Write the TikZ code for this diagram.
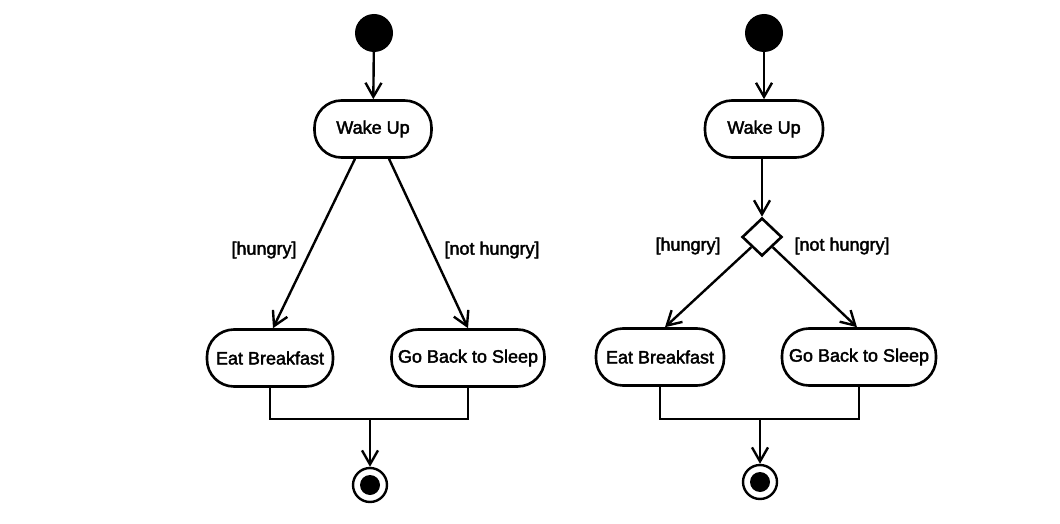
\documentclass[tikz,border=0pt]{standalone}
\usepackage{fontspec}
\setmainfont{Liberation Sans}[FakeBold=2.2]
\usetikzlibrary{arrows.meta,shapes.geometric,calc}
\tikzset{
  act/.style={draw,line width=2.6pt,rounded corners=27pt,minimum height=57pt,inner sep=0pt,font=\fontsize{18}{21}\selectfont},
  initst/.style={circle,fill=black,minimum size=38pt,inner sep=0pt},
  finalst/.style={circle,draw,line width=2.4pt,minimum size=34pt,inner sep=0pt,path picture={\fill[black] (path picture bounding box.center) circle (10pt);}},
  decis/.style={diamond,draw,line width=2.6pt,minimum width=40pt,minimum height=38pt,inner sep=0pt},
  guard/.style={font=\fontsize{18}{21}\selectfont,inner sep=0pt},
  flow/.style={line width=2.4pt,-{Straight Barb[length=14pt,width=16pt,line width=2.4pt]}},
  joinln/.style={line width=2.6pt}
}
\begin{document}
\begin{tikzpicture}[x=1pt,y=-1pt]
\useasboundingbox (0,0) rectangle (1060,524);
% left diagram
\node[initst] (i1) at (374,33) {};
\node[act,minimum width=117pt] (wu1) at (373,129) {Wake Up};
\node[act,minimum width=126pt] (eb1) at (270,358) {Eat Breakfast};
\node[act,minimum width=153pt] (gb1) at (468,358) {Go Back to Sleep};
\node[finalst] (f1) at (370,485) {};
\node[guard] (h1) at (264,250) {[hungry]};
\node[guard] (n1) at (492,250) {[not hungry]};
\coordinate (j1) at (370,419);
\draw[flow] (i1) -- (wu1);
\draw[flow] ([xshift=-18pt]wu1.south) -- ([xshift=3pt]eb1.north);
\draw[flow] ([xshift=16pt]wu1.south) -- (gb1.north);
\draw[joinln] (eb1.south) |- (j1) -| (gb1.south);
\draw[flow] (j1) -- (f1);
% right diagram
\node[initst] (i2) at (764,33) {};
\node[act,minimum width=118pt] (wu2) at (764,129) {Wake Up};
\node[decis] (d2) at (762,237) {};
\node[act,minimum width=128pt] (eb2) at (660,357) {Eat Breakfast};
\node[act,minimum width=154pt] (gb2) at (859,357) {Go Back to Sleep};
\node[finalst] (f2) at (760,482) {};
\node[guard] (h2) at (688,246) {[hungry]};
\node[guard] (n2) at (842,246) {[not hungry]};
\coordinate (j2) at (760,419);
\draw[flow] (i2) -- (wu2);
\draw[flow] ([xshift=-2pt]wu2.south) -- (d2.north);
\draw[flow] (d2.south west) -- ([xshift=5pt]eb2.north);
\draw[flow] (d2.south east) -- ([xshift=-2pt]gb2.north);
\draw[joinln] (eb2.south) |- (j2) -| (gb2.south);
\draw[flow] (j2) -- (f2);
\end{tikzpicture}
\end{document}
